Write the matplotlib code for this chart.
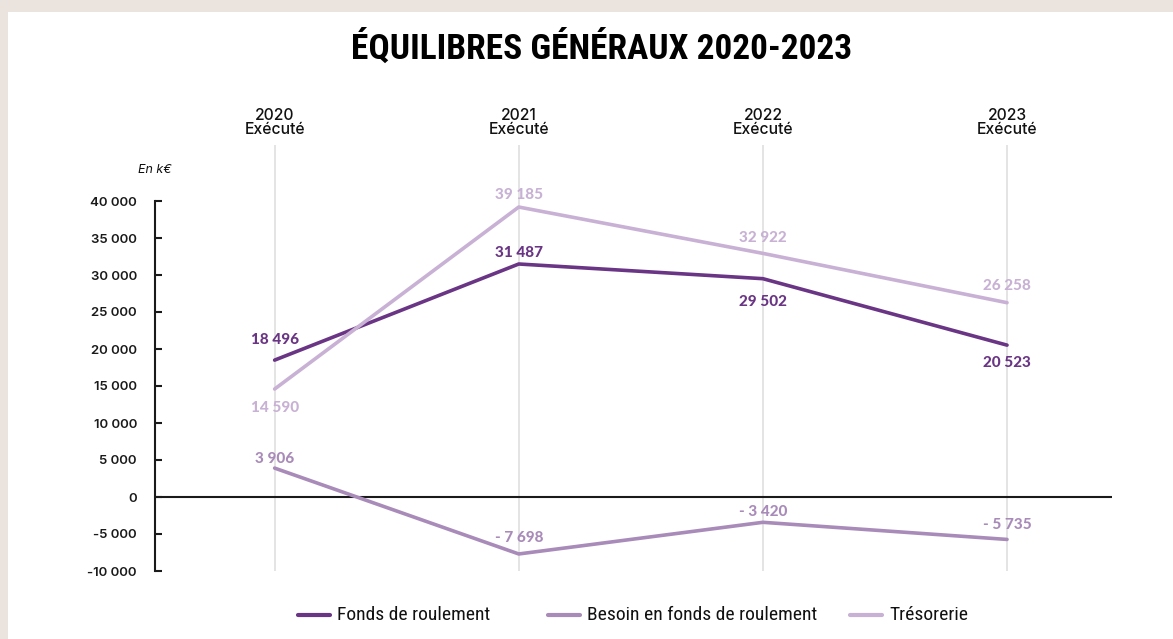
import matplotlib
matplotlib.use("Agg")
import matplotlib.pyplot as plt
from matplotlib import font_manager
from matplotlib.lines import Line2D
from matplotlib.patches import Rectangle

# --- data ---
years = ["2020", "2021", "2022", "2023"]
year_sub = ["Exécuté", "Exécuté", "Exécuté", "Exécuté"]
fonds_roulement = [18496, 31487, 29502, 20523]
besoin_fonds = [3906, -7698, -3420, -5735]
tresorerie = [14590, 39185, 32922, 26258]
y_ticks = [40000, 35000, 30000, 25000, 20000, 15000, 10000, 5000, 0, -5000, -10000]

series_names = ["Fonds de roulement", "Besoin en fonds de roulement", "Trésorerie"]
series_colors = ["#6a3584", "#a98bb9", "#c8b1d4"]
# value-label offsets in pixels (positive = above the point)
fr_off = [22, 12, -22, -16.5]
bfr_off = [11, 17.5, 12, 16]
tre_off = [-17, 14, 17, 18]

available = {f.name for f in font_manager.fontManager.ttflist}


def pick(*names):
    for n in names:
        if n in available:
            return n
    return "DejaVu Sans"


narrow = pick("Roboto Condensed", "Liberation Sans Narrow", "Roboto")
body = pick("Inter", "Roboto", "DejaVu Sans")
labelf = pick("Lato", "Roboto", "DejaVu Sans")


def fmt(v):
    s = f"{abs(v):,}".replace(",", " ")
    return ("- " + s) if v < 0 else s


W, H = 1173, 639
fig = plt.figure(figsize=(W / 100, H / 100), dpi=100)
fig.patch.set_facecolor("#ebe4de")
fig.add_artist(Rectangle((8 / W, 0), 1 - 8 / W, 1 - 12 / H, transform=fig.transFigure,
                         facecolor="white", edgecolor="none", zorder=0))

ax = fig.add_axes([155 / W, 68 / H, (1112 - 155) / W, (571 - 145) / H])
ax.set_facecolor("none")
px_per_unit = (571 - 201) / 50000
ymax = 40000 + (201 - 145) / px_per_unit
ax.set_ylim(-10000, ymax)
ax.set_xlim(-0.49, 3.43)

x = list(range(len(years)))

# vertical guides per year
for xi in x:
    ax.axvline(xi, color="#e2e2e2", lw=1.3, zorder=1)

# zero line
ax.axhline(0, color="#1a1a1a", lw=1.5, zorder=2)

for vals, col, offs in [(fonds_roulement, series_colors[0], fr_off),
                        (besoin_fonds, series_colors[1], bfr_off),
                        (tresorerie, series_colors[2], tre_off)]:
    ax.plot(x, vals, color=col, lw=2.6, solid_capstyle="round", zorder=3)
    for xi, v, o in zip(x, vals, offs):
        ax.annotate(fmt(v), (xi, v), xytext=(0, (o - 1.5) * 0.72), textcoords="offset points",
                    ha="center", va="center",
                    color=col, fontsize=11, fontweight="black", family=labelf, zorder=4)

# spines and ticks
for s in ["top", "right", "bottom"]:
    ax.spines[s].set_visible(False)
ax.spines["left"].set_bounds(-10000, 40000)
ax.spines["left"].set_linewidth(1.5)
ax.spines["left"].set_color("#1a1a1a")
ax.set_yticks(y_ticks)
ax.set_yticklabels([f"{v:,}".replace(",", " ") for v in y_ticks])
ax.tick_params(axis="y", direction="in", length=5, width=1.5, pad=13,
               labelsize=9.5, colors="#1a1a1a")
for lbl in ax.get_yticklabels():
    lbl.set_fontfamily(body)
    lbl.set_fontweight("semibold")
ax.set_xticks([])

# year headers
for xi, yr, sub in zip(x, years, year_sub):
    ax.text(xi, 1.0 + 8 / (571 - 145), f"{yr}\n{sub}", transform=ax.get_xaxis_transform(),
            ha="center", va="bottom", fontsize=11.3, family=body, fontweight="medium",
            linespacing=0.92, color="#111111")

fig.text(155 / W, 1 - 170 / H, "En k€", ha="center", va="center",
         fontsize=9, style="italic", family=body, color="#111111")

fig.text(602 / W, 1 - 48 / H, "ÉQUILIBRES GÉNÉRAUX 2020-2023", ha="center", va="center",
         fontsize=25.5, fontweight="bold", family=narrow, color="#000000")

# legend drawn as individual entries
legend_handle_x = [298, 548, 850]
legend_y = 615
for hx, name, col in zip(legend_handle_x, series_names, series_colors):
    fig.add_artist(Line2D([hx / W, (hx + 32) / W], [1 - legend_y / H, 1 - legend_y / H],
                          transform=fig.transFigure, color=col, lw=3,
                          solid_capstyle="round"))
    fig.text((hx + 39) / W, 1 - legend_y / H, name, ha="left", va="center",
             fontsize=14, family=narrow, color="#111111")

fig.savefig("out.png", dpi=100, facecolor=fig.get_facecolor())
